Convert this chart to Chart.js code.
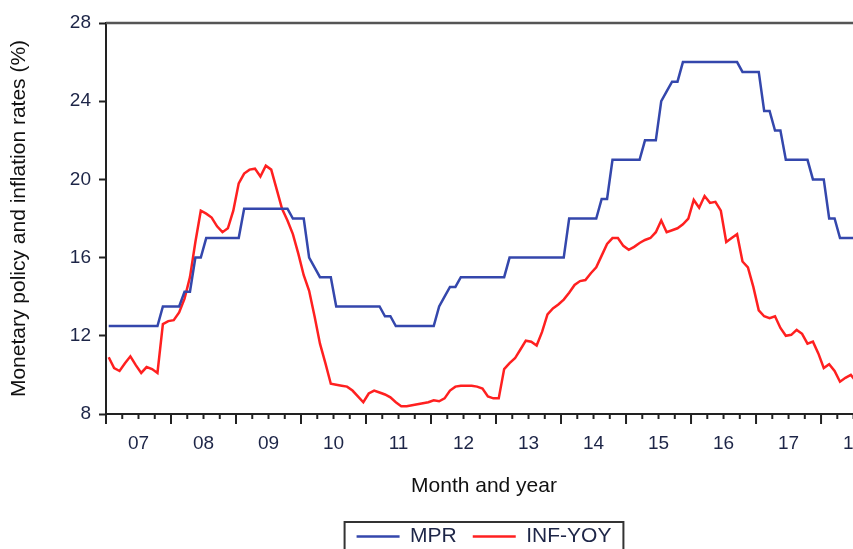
<!DOCTYPE html>
<html><head><meta charset="utf-8">
<script src="https://cdn.jsdelivr.net/npm/chart.js@4.4.1/dist/chart.umd.min.js"></script>
<style>
html,body{margin:0;padding:0;background:#fff;overflow:hidden;}
#wrap{width:880px;height:560px;position:relative;}
</style></head><body>
<div id="wrap"><canvas id="c"></canvas></div>
<script>
const startYear = 2007;
const yearLabels = ['07','08','09','10','11','12','13','14','15','16','17','18'];
const yTickValues = [8, 12, 16, 20, 24, 28];
const seriesNames = ['MPR', 'INF-YOY'];

// Monthly values, Jan 2007 onward
const mpr = [
  12.5,12.5,12.5,12.5,12.5,12.5,12.5,12.5,12.5,12.5,
  13.5,13.5,13.5,13.5,
  14.25,14.25,
  16,16,
  17,17,17,17,17,17,17,
  18.5,18.5,18.5,18.5,18.5,18.5,18.5,18.5,18.5,
  18,18,18,
  16,
  15.5,
  15,15,15,
  13.5,13.5,13.5,13.5,13.5,13.5,13.5,13.5,13.5,
  13,13,
  12.5,12.5,12.5,12.5,12.5,12.5,12.5,12.5,
  13.5,
  14,
  14.5,14.5,
  15,15,15,15,15,15,15,15,15,
  16,16,16,16,16,16,16,16,16,16,16,
  18,18,18,18,18,18,
  19,19,
  21,21,21,21,21,21,
  22,22,22,
  24,
  24.5,
  25,25,
  26,26,26,26,26,26,26,26,26,26,26,
  25.5,25.5,25.5,25.5,
  23.5,23.5,
  22.5,22.5,
  21,21,21,21,21,
  20,20,20,
  18,18,
  17,17,17,17
];

const infYoy = [
  10.9,10.35,10.2,10.6,10.95,10.5,10.1,10.4,10.3,10.1,
  12.6,12.75,12.8,13.2,13.9,15.0,16.8,18.4,18.25,18.05,
  17.6,17.3,17.5,18.4,19.8,20.3,20.5,20.55,20.15,20.7,
  20.5,19.5,18.5,17.9,17.2,16.2,15.1,14.3,13.0,11.6,
  10.6,9.55,9.5,9.45,9.4,9.2,8.9,8.6,9.05,9.2,
  9.1,9.0,8.85,8.6,8.4,8.4,8.45,8.5,8.55,8.6,
  8.7,8.65,8.8,9.2,9.4,9.45,9.45,9.45,9.4,9.3,
  8.9,8.8,8.8,10.3,10.6,10.85,11.3,11.75,11.7,11.5,
  12.2,13.1,13.4,13.6,13.85,14.2,14.6,14.8,14.85,15.2,
  15.5,16.1,16.7,17.0,17.0,16.6,16.4,16.55,16.75,16.9,
  17.0,17.3,17.9,17.3,17.4,17.5,17.7,18.0,18.95,18.55,
  19.15,18.8,18.85,18.4,16.8,17.0,17.2,15.8,15.5,14.5,
  13.3,13.0,12.9,13.0,12.4,12.0,12.05,12.3,12.1,11.6,
  11.7,11.1,10.35,10.55,10.2,9.65,9.85,10.0,9.65
];

const FONT = "'Liberation Sans', Arial, sans-serif";
const monthX = i => startYear + (i + 0.5) / 12;
const toPoints = arr => arr.map((v, i) => ({ x: monthX(i), y: v }));

const framePlugin = {
  id: 'frame',
  afterDraw(chart) {
    const { ctx, chartArea: a, scales: { x } } = chart;
    ctx.save();
    ctx.strokeStyle = '#555';
    ctx.lineWidth = 2.5;
    ctx.beginPath(); ctx.moveTo(a.left, a.top); ctx.lineTo(a.right, a.top); ctx.stroke();
    ctx.strokeStyle = '#222';
    ctx.lineWidth = 2;
    for (let q = Math.ceil(x.min * 4) / 4; q <= x.max + 1e-9; q += 0.25) {
      const px = x.getPixelForValue(q);
      const major = Math.abs(q - Math.round(q)) < 1e-6;
      ctx.beginPath(); ctx.moveTo(px, a.bottom); ctx.lineTo(px, a.bottom + (major ? 10 : 5)); ctx.stroke();
    }
    const lg = chart.legend;
    if (lg && lg.legendHitBoxes && lg.legendHitBoxes.length) {
      const hb = lg.legendHitBoxes;
      const l = Math.min(...hb.map(h => h.left)) - 12;
      const r = Math.max(...hb.map(h => h.left + h.width)) + 12;
      const t = Math.min(...hb.map(h => h.top)) - 4;
      const b = Math.max(...hb.map(h => h.top + h.height)) + 6;
      ctx.strokeStyle = '#333';
      ctx.lineWidth = 2;
      ctx.strokeRect(l, t, r - l, b - t);
    }
    ctx.restore();
  }
};

new Chart(document.getElementById('c'), {
  type: 'line',
  data: {
    datasets: [
      { label: seriesNames[0], data: toPoints(mpr), borderColor: '#3447ac', backgroundColor: '#3447ac', borderWidth: 2.5, pointRadius: 0, tension: 0, fill: false },
      { label: seriesNames[1], data: toPoints(infYoy), borderColor: '#ff2020', backgroundColor: '#ff2020', borderWidth: 2.5, pointRadius: 0, tension: 0, fill: false }
    ]
  },
  options: {
    responsive: true,
    maintainAspectRatio: false,
    animation: false,
    layout: { padding: { top: 23, right: 18, bottom: 3, left: 0 } },
    plugins: {
      tooltip: { enabled: false },
      legend: {
        position: 'bottom',
        fullSize: false,
        labels: {
          usePointStyle: true, pointStyle: 'line', pointStyleWidth: 43, boxHeight: 21,
          padding: 16, color: '#1d2547', font: { family: FONT, size: 21 }
        }
      }
    },
    scales: {
      x: {
        type: 'linear', min: 2007, max: 2018.63,
        afterBuildTicks: s => { s.ticks = yearLabels.map((_, k) => ({ value: startYear + k + 0.5 })); },
        afterFit: s => { s.height = 96; },
        grid: { drawOnChartArea: false, drawTicks: true, tickLength: 10, tickColor: 'rgba(0,0,0,0)' },
        border: { display: true, color: '#222', width: 2 },
        ticks: {
          autoSkip: false, maxRotation: 0, padding: 8, color: '#1d2547',
          font: { family: FONT, size: 19 },
          callback: (v, idx) => yearLabels[idx]
        },
        title: { display: true, text: 'Month and year', color: '#111', font: { family: FONT, size: 21 }, padding: { top: 0, bottom: 11 } }
      },
      y: {
        min: 8, max: 28,
        afterBuildTicks: s => { s.ticks = yTickValues.map(v => ({ value: v })); },
        afterFit: s => { s.width = 106; },
        grid: { drawOnChartArea: false, drawTicks: true, tickLength: 7, tickColor: '#222', tickWidth: 2 },
        border: { display: true, color: '#222', width: 2 },
        ticks: { padding: 8, color: '#1d2547', font: { family: FONT, size: 19 } },
        title: { display: true, text: 'Monetary policy and inflation rates (%)', color: '#111', font: { family: FONT, size: 21 }, padding: { top: 7, bottom: 0 } }
      }
    }
  },
  plugins: [framePlugin]
});
</script>
</body></html>
